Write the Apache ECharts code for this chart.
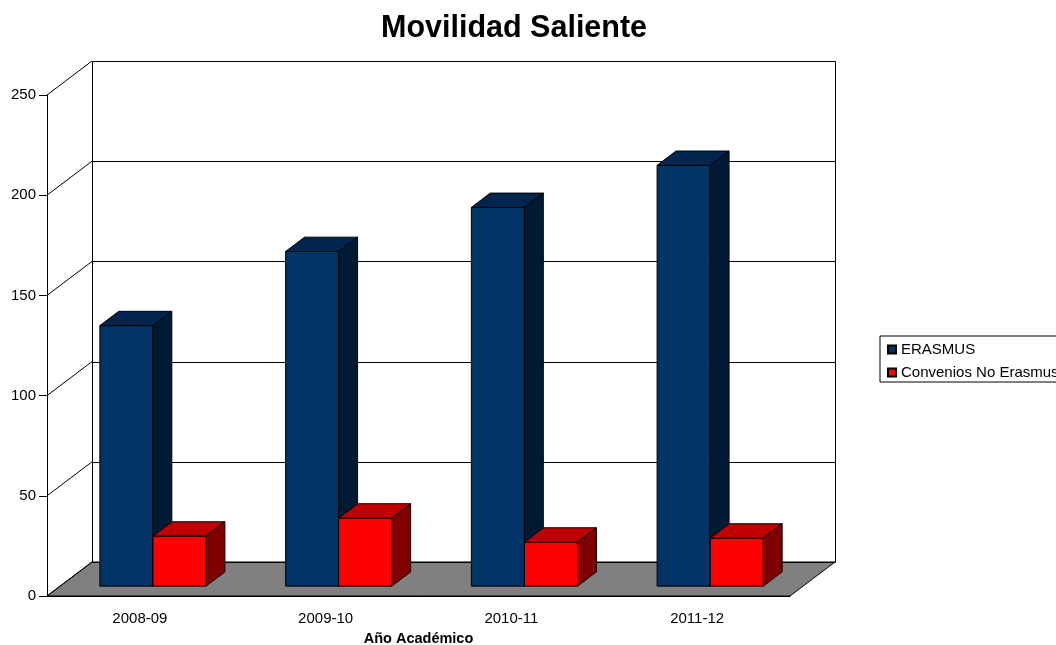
<!DOCTYPE html>
<html><head><meta charset="utf-8">
<script src="https://cdn.jsdelivr.net/npm/echarts@6/dist/echarts.min.js"></script>
<style>html,body{margin:0;padding:0;background:#fff;overflow:hidden}#c{width:1056px;height:645px}</style>
</head><body><div id="c"></div>
<script>
// ---- data ----
const categories = ['2008-09', '2009-10', '2010-11', '2011-12'];
const erasmus = [130, 167, 189, 210];
const convenios = [25, 34, 22, 24];
const yTicks = [0, 50, 100, 150, 200, 250];
const seriesNames = ['ERASMUS', 'Convenios No Erasmus'];
const titleText = 'Movilidad Saliente';
const xAxisName = 'Año Académico';

// ---- 3D look (style only) ----
const DX = 45, DY = -34;            // floor depth offset
const BAR_FRONT = 0.29, BAR_BACK = 0.71;
const FONT = "'Liberation Sans', Arial, sans-serif";
const blueFaces = { front: '#003366', top: '#002650', side: '#001a33' };
const redFaces = { front: '#ff0000', top: '#c00000', side: '#800000' };

const px = v => Math.round(v) + 0.5;

function backgroundRenderer(params, api) {
  const cs = params.coordSys;
  const xl = cs.x, xr = cs.x + cs.width;
  const children = [];
  const yTop = api.coord([0, yTicks[yTicks.length - 1]])[1];
  const yBot = api.coord([0, yTicks[0]])[1];
  // floor
  children.push({ type: 'polygon', shape: { points: [[xl, yBot], [xr, yBot], [xr + DX, yBot + DY], [xl + DX, yBot + DY]] },
    style: { fill: '#808080', stroke: '#000', lineWidth: 1 } });
  // back wall lines + left wall diagonals
  yTicks.forEach(t => {
    const y = api.coord([0, t])[1];
    children.push({ type: 'line', shape: { x1: px(xl + DX), y1: px(y + DY), x2: px(xr + DX), y2: px(y + DY) },
      style: { stroke: '#000', lineWidth: 1 } });
    children.push({ type: 'line', shape: { x1: xl, y1: y, x2: xl + DX, y2: y + DY },
      style: { stroke: '#000', lineWidth: 1 } });
  });
  // back wall verticals
  children.push({ type: 'line', shape: { x1: px(xl + DX), y1: px(yTop + DY), x2: px(xl + DX), y2: px(yBot + DY) }, style: { stroke: '#000', lineWidth: 1 } });
  children.push({ type: 'line', shape: { x1: px(xr + DX), y1: px(yTop + DY), x2: px(xr + DX), y2: px(yBot + DY) }, style: { stroke: '#000', lineWidth: 1 } });
  return { type: 'group', children, silent: true };
}

function barRenderer(faces, slot) {
  return function (params, api) {
    const ci = api.value(0), v = api.value(1);
    const c0 = api.coord([ci, 0]);
    const c1 = api.coord([ci, v]);
    const W = api.size([1, 0])[0];
    const bw = W / 3.5;
    const fx = DX * BAR_FRONT, fy = DY * BAR_FRONT;
    const ddx = DX * (BAR_BACK - BAR_FRONT), ddy = DY * (BAR_BACK - BAR_FRONT);
    const x0 = c0[0] + (slot === 0 ? -bw : 0) + fx;
    const x1 = x0 + bw;
    const yb = c0[1] + fy, yt = c1[1] + fy;
    const st = f => ({ fill: f, stroke: '#000', lineWidth: 1, lineJoin: 'round' });
    return { type: 'group', children: [
      { type: 'polygon', shape: { points: [[x0, yb], [x1, yb], [x1, yt], [x0, yt]] }, style: st(faces.front) },
      { type: 'polygon', shape: { points: [[x0, yt], [x1, yt], [x1 + ddx, yt + ddy], [x0 + ddx, yt + ddy]] }, style: st(faces.top) },
      { type: 'polygon', shape: { points: [[x1, yb], [x1 + ddx, yb + ddy], [x1 + ddx, yt + ddy], [x1, yt]] }, style: st(faces.side) }
    ] };
  };
}

const chart = echarts.init(document.getElementById('c'), null, { renderer: 'canvas', width: 1056, height: 645 });
chart.setOption({
  animation: false,
  backgroundColor: '#fff',
  textStyle: { fontFamily: FONT },
  title: {
    text: titleText, left: 381, top: 13, padding: 0,
    textStyle: { fontFamily: FONT, fontSize: 30.5, fontWeight: 'bold', color: '#000' }
  },
  legend: {
    data: seriesNames, orient: 'vertical', left: 880, top: 336,
    padding: [5, 40, 1, 7], itemGap: 6, itemWidth: 8, itemHeight: 8, icon: 'rect',
    borderColor: '#000', borderWidth: 1, borderRadius: 0,
    textStyle: { fontFamily: FONT, fontSize: 15, color: '#000', lineHeight: 17 }
  },
  grid: { left: 47, top: 95, width: 743, height: 501, containLabel: false, outerBoundsMode: 'none' },
  xAxis: {
    type: 'category', data: categories,
    axisLine: { lineStyle: { color: '#000', width: 1 } },
    axisTick: { length: 8, lineStyle: { color: '#000' } },
    axisLabel: { fontFamily: FONT, fontSize: 15, color: '#000', margin: 15 },
    name: xAxisName, nameLocation: 'middle', nameGap: 35,
    nameTextStyle: { fontFamily: FONT, fontSize: 14.5, fontWeight: 'bold', color: '#000' }
  },
  yAxis: {
    type: 'value', min: 0, max: 250, interval: 50,
    axisLine: { show: true, lineStyle: { color: '#000', width: 1 } },
    axisTick: { show: true, length: 8, lineStyle: { color: '#000' } },
    axisLabel: { fontFamily: FONT, fontSize: 15, color: '#000', margin: 11 },
    splitLine: { show: false }
  },
  series: [
    { type: 'custom', name: 'bg', renderItem: backgroundRenderer, data: [[0, 0]], silent: true, z: 1, clip: false },
    { type: 'custom', name: seriesNames[0], renderItem: barRenderer(blueFaces, 0),
      data: erasmus.map((v, i) => [i, v]), itemStyle: { color: blueFaces.front, borderColor: '#000', borderWidth: 1 }, z: 2, clip: false },
    { type: 'custom', name: seriesNames[1], renderItem: barRenderer(redFaces, 1),
      data: convenios.map((v, i) => [i, v]), itemStyle: { color: redFaces.front, borderColor: '#000', borderWidth: 1 }, z: 2, clip: false }
  ]
});
</script>
</body></html>
